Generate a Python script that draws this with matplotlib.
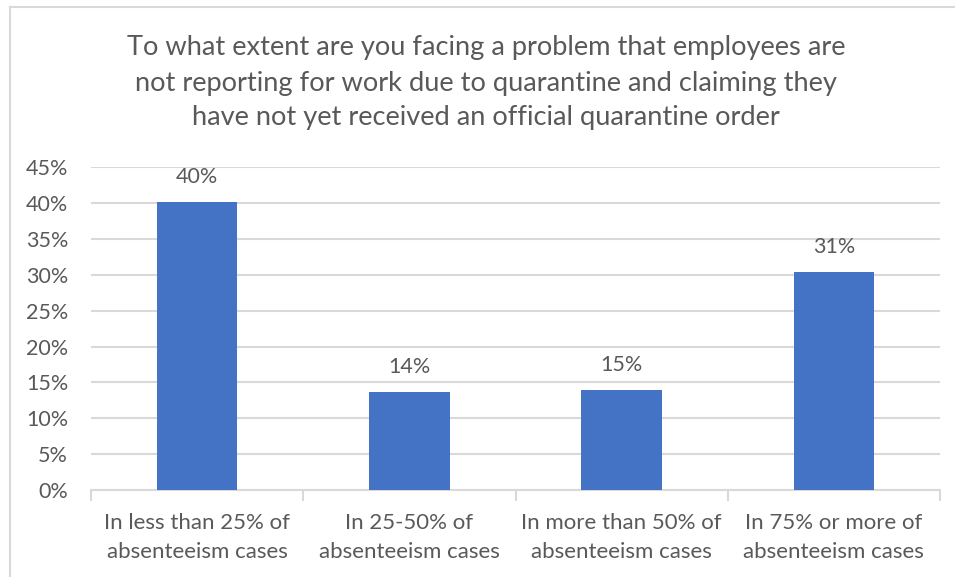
import matplotlib
matplotlib.use("Agg")
import matplotlib.pyplot as plt
from matplotlib.lines import Line2D

categories = ["In less than 25% of\nabsenteeism cases",
              "In 25-50% of\nabsenteeism cases",
              "In more than 50% of\nabsenteeism cases",
              "In 75% or more of\nabsenteeism cases"]
values = [0.401, 0.137, 0.140, 0.304]
value_labels = ["40%", "14%", "15%", "31%"]
yticks = [0, 0.05, 0.10, 0.15, 0.20, 0.25, 0.30, 0.35, 0.40, 0.45]
ytick_labels = ["0%", "5%", "10%", "15%", "20%", "25%", "30%", "35%", "40%", "45%"]
title = ("To what extent are you facing a problem that employees are\n"
         "not reporting for work due to quarantine and claiming they\n"
         "have not yet received an official quarantine order")

W, H = 955, 577
FONT = "Lato"
TXT = "#595959"
GRID = "#d9d9d9"
BAR = "#4472C4"

fig = plt.figure(figsize=(W / 100, H / 100), dpi=100)
fig.patch.set_facecolor("white")

# chart frame (left and top borders visible)
fig.add_artist(Line2D([9.5 / W, 9.5 / W], [0, 1 - 7 / H], color=GRID, lw=1.5))
fig.add_artist(Line2D([9.5 / W, 1.0], [1 - 7 / H, 1 - 7 / H], color=GRID, lw=1.5))

ax = fig.add_axes([91 / W, 1 - 490 / H, (940 - 91) / W, (490 - 167.3) / H])
x = list(range(len(categories)))
ax.bar(x, values, width=0.38, color=BAR, zorder=3)
ax.set_xlim(-0.5, len(categories) - 0.5)
ax.set_ylim(0, 0.45)
ax.set_yticks(yticks)
ax.set_yticklabels(ytick_labels, fontsize=15.5, color=TXT, family=FONT)
ax.yaxis.grid(True, color=GRID, lw=1.5, zorder=0)
ax.tick_params(axis="y", length=0, pad=16.5)
for s in ["top", "right", "left"]:
    ax.spines[s].set_visible(False)
ax.spines["bottom"].set_color(GRID)
ax.spines["bottom"].set_linewidth(1.5)
ax.set_xticks([i - 0.5 for i in range(len(categories) + 1)], minor=False)
ax.set_xticklabels([""] * (len(categories) + 1))
ax.tick_params(axis="x", which="major", length=8, width=1.5, color=GRID)
ax.set_xticks(x, minor=True)
ax.set_xticklabels(categories, minor=True, fontsize=16, color=TXT, family=FONT,
                   linespacing=1.55)
ax.tick_params(axis="x", which="minor", length=0, pad=16.5)

for xi, v, lab in zip(x, values, value_labels):
    ax.annotate(lab, (xi, v), xytext=(0, 15), textcoords="offset pixels",
                ha="center", va="bottom", fontsize=15.5, color=TXT, family=FONT)

fig.text(486 / W, 1 - 83 / H, title, ha="center", va="center", fontsize=19.6,
         color=TXT, family=FONT, linespacing=1.5)

fig.savefig("out.png", dpi=100, facecolor="white")
